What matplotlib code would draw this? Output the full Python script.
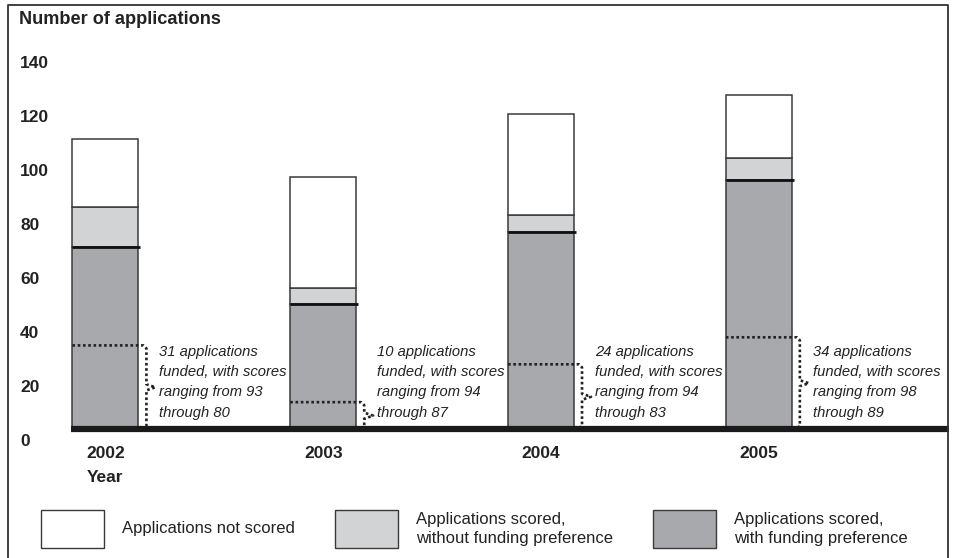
import matplotlib
matplotlib.use("Agg")
import matplotlib.pyplot as plt
import numpy as np
from matplotlib.lines import Line2D
from matplotlib.patches import Rectangle

plt.rcParams['font.family'] = ['Liberation Sans', 'DejaVu Sans']

# data (number of applications)
years = ["2002", "2003", "2004", "2005"]
scored_pref = np.array([71.5, 50.3, 77.0, 96.3])      # scored, with funding preference
scored_nopref = np.array([14.8, 6.1, 6.3, 8.2])       # scored, without funding preference
not_scored = np.array([25.1, 41.0, 37.2, 23.1])       # not scored
funded = [31, 10, 24, 34]
score_hi = [93, 94, 94, 98]
score_lo = [80, 87, 83, 89]

legend_labels = ["Applications not scored",
                 "Applications scored,\nwithout funding preference",
                 "Applications scored,\nwith funding preference"]

WHITE, LIGHT, DARK = "#ffffff", "#d2d3d5", "#a8a9ac"
EDGE = "#3a3a3a"
FLOOR = 4.0      # the axis line sits a little above the "0" label

W, H = 954, 558
fig = plt.figure(figsize=(W / 100, H / 100), dpi=100)
ax = fig.add_axes([71 / W, 1 - 440 / H, 878 / W, 400 / H])
ax.set_xlim(-0.158, 3.873)
ax.set_ylim(0, 148)

# pixel -> data scale factors, for small drawing offsets
sx = (3.873 + 0.158) / 878
sy = 148 / 400

x = np.arange(len(years))
bw = 0.303
ax.bar(x, scored_pref - FLOOR, bottom=FLOOR, width=bw, color=DARK,
       edgecolor=EDGE, linewidth=1.1)
ax.bar(x, scored_nopref, bottom=scored_pref, width=bw, color=LIGHT,
       edgecolor=EDGE, linewidth=1.1)
ax.bar(x, not_scored, bottom=scored_pref + scored_nopref, width=bw,
       color=WHITE, edgecolor=EDGE, linewidth=1.1)
# heavier rule on top of the funding-preference segment
ax.hlines(scored_pref, x - bw / 2, x + bw / 2 + 2 * sx, color="#111111",
          linewidth=2, zorder=3)

# thick base line
ax.axhline(FLOOR, color="#1a1a1a", linewidth=4.5, zorder=4)

# dotted braces + notes
for xi, n, hi, lo in zip(x, funded, score_hi, score_lo):
    top = FLOOR + n
    base = FLOOR
    mid = (top + base) / 2
    xr = xi + bw / 2
    vx = xr + 8 * sx
    verts = [(xi - bw / 2, top), (vx - 3 * sx, top), (vx, top - 3 * sy),
             (vx, mid + 3 * sy), (vx + 9 * sx, mid), (vx, mid - 3 * sy),
             (vx, base + 3 * sy), (vx - 3 * sx, base + 1 * sy)]
    xs, ys = zip(*verts)
    ax.plot(xs, ys, linestyle=(0, (1, 1)), linewidth=1.9, color="#222222",
            zorder=3)
    note = (f"{n} applications\nfunded, with scores\n"
            f"ranging from {hi}\nthrough {lo}")
    ax.text(xr + 21 * sx, 21.3, note, ha="left", va="center",
            fontsize=10.6, style="italic", color="#222222", linespacing=1.55)

# axes cosmetics
for s in ax.spines.values():
    s.set_visible(False)
ax.set_yticks(range(0, 141, 20))
ax.tick_params(axis="y", length=0, pad=36.7)
for lbl in ax.get_yticklabels():
    lbl.set_ha("left")
    lbl.set_fontweight("bold")
    lbl.set_fontsize(12.5)
    lbl.set_color("#222222")
ax.set_xticks(x, years)
ax.tick_params(axis="x", length=0, pad=4.5)
for lbl in ax.get_xticklabels():
    lbl.set_fontweight("bold")
    lbl.set_fontsize(12.5)
    lbl.set_color("#222222")
ax.set_xlabel("Year", fontweight="bold", fontsize=12.5, color="#222222")
ax.xaxis.set_label_coords((105.5 - 71) / 878, -0.075)

fig.text(19 / W, 1 - 20 / H, "Number of applications", fontsize=13.1,
         fontweight="bold", va="center", ha="left", color="#222222")

# outer frame (open at the bottom)
fig.add_artist(Line2D([8.5 / W, 8.5 / W, 948.5 / W, 948.5 / W],
                      [0, 1 - 4.5 / H, 1 - 4.5 / H, 0],
                      transform=fig.transFigure, color="#333333",
                      linewidth=1.3))

# legend, drawn by hand like the original
box_left = [41, 335, 653]
text_left = [122, 416, 734]
for bl, tl, fc, lab in zip(box_left, text_left, [WHITE, LIGHT, DARK],
                           legend_labels):
    fig.add_artist(Rectangle((bl / W, 1 - 548 / H), 63 / W, 38 / H,
                             transform=fig.transFigure, facecolor=fc,
                             edgecolor=EDGE, linewidth=1))
    fig.text(tl / W, 1 - 529 / H, lab, fontsize=12, va="center", ha="left",
             color="#222222", linespacing=1.38)

plt.savefig("out.png", dpi=100)
